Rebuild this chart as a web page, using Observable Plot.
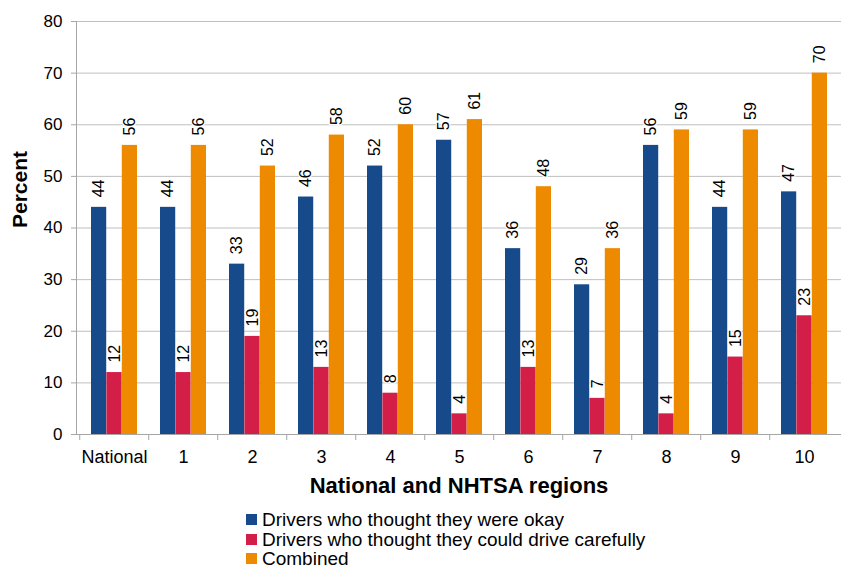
<!DOCTYPE html>
<html>
<head>
<meta charset="utf-8">
<script src="https://cdn.jsdelivr.net/npm/d3@7"></script>
<script src="https://cdn.jsdelivr.net/npm/@observablehq/plot@0.6"></script>
<style>
  body { margin: 0; background: #fff; font-family: "Liberation Sans", Arial, sans-serif; }
  #legend { margin: 10px 0 0 246px; font-size: 19px; line-height: 19.5px; color: #000; }
  #legend .row { display: flex; align-items: center; white-space: nowrap; }
  #legend .sw { width: 11px; height: 11px; margin-right: 5px; flex: none; }
</style>
</head>
<body>
<div id="chart"></div>
<script>
// Share of drivers (percent) by national and NHTSA region
const regions = ["National", "1", "2", "3", "4", "5", "6", "7", "8", "9", "10"];
const okay = [44, 44, 33, 46, 52, 57, 36, 29, 56, 44, 47];
const careful = [12, 12, 19, 13, 8, 4, 13, 7, 4, 15, 23];
const combined = [56, 56, 52, 58, 60, 61, 48, 36, 59, 59, 70];

const seriesNames = [
  "Drivers who thought they were okay",
  "Drivers who thought they could drive carefully",
  "Combined"
];
const seriesColors = ["#174a8b", "#d31f48", "#ee8a00"];
const yTicks = [0, 10, 20, 30, 40, 50, 60, 70, 80];

const W = 841, H = 500;
const mL = 76, mR = 0, mT = 21, mB = 66;
const padInner = 0.336, padOuter = 0.168;
const step = (W - mL - mR) / (regions.length - padInner + 2 * padOuter);
const bw = step * (1 - padInner);
const slot = bw / 3;

const series = [okay, careful, combined];
const axisGray = "#a6a6a6";

const marks = [
  Plot.gridY({ticks: yTicks, stroke: "#bfbfbf", strokeOpacity: 1}),
  Plot.axisY({ticks: yTicks, tickSize: 5, tickPadding: 9, fontSize: 17, stroke: axisGray, fill: "#000", label: null}),
  // group separators along the category axis
  Plot.axisX({tickSize: 6, tickFormat: () => "", dx: -step / 2, stroke: axisGray, label: null}),
  Plot.axisX({tickSize: 0, tickPadding: 16, fontSize: 18, fill: "#000", label: null}),
  Plot.frame({anchor: "left", stroke: axisGray}),
  Plot.ruleY([0], {stroke: axisGray})
];

series.forEach((vals, k) => {
  marks.push(Plot.barY(regions, {
    x: d => d,
    y: (d, i) => vals[i],
    fill: seriesColors[k],
    insetLeft: k * slot,
    insetRight: (2 - k) * slot
  }));
});

// value labels, set on a thin white halo so grid lines do not run through them
series.forEach((vals, k) => {
  marks.push(Plot.text(regions, {
    x: d => d,
    y: (d, i) => vals[i],
    text: (d, i) => String(vals[i]),
    rotate: -90,
    textAnchor: "start",
    dx: (k - 1) * slot,
    dy: -10,
    fontSize: 16,
    fill: "#000",
    stroke: "white",
    strokeWidth: 2.5
  }));
});

marks.push(Plot.text(["Percent"], {
  frameAnchor: "left", rotate: -90, dx: -56,
  fontSize: 21, fontWeight: "bold", fill: "#000"
}));
marks.push(Plot.text(["National and NHTSA regions"], {
  frameAnchor: "bottom", dy: 58,
  fontSize: 22, fontWeight: "bold", fill: "#000"
}));

const chart = Plot.plot({
  width: W,
  height: H,
  marginLeft: mL,
  marginRight: mR,
  marginTop: mT,
  marginBottom: mB,
  style: {fontFamily: "'Liberation Sans', Arial, sans-serif", fontSize: "16px", color: "#000", background: "#fff"},
  x: {type: "band", domain: regions, paddingInner: padInner, paddingOuter: padOuter},
  y: {domain: [0, 80]},
  marks
});
document.getElementById("chart").appendChild(chart);

// Legend below the chart
const legend = document.createElement("div");
legend.id = "legend";
seriesNames.forEach((name, k) => {
  const row = document.createElement("div");
  row.className = "row";
  const sw = document.createElement("span");
  sw.className = "sw";
  sw.style.background = seriesColors[k];
  const label = document.createElement("span");
  label.textContent = name;
  row.appendChild(sw);
  row.appendChild(label);
  legend.appendChild(row);
});
document.body.appendChild(legend);
</script>
</body>
</html>
